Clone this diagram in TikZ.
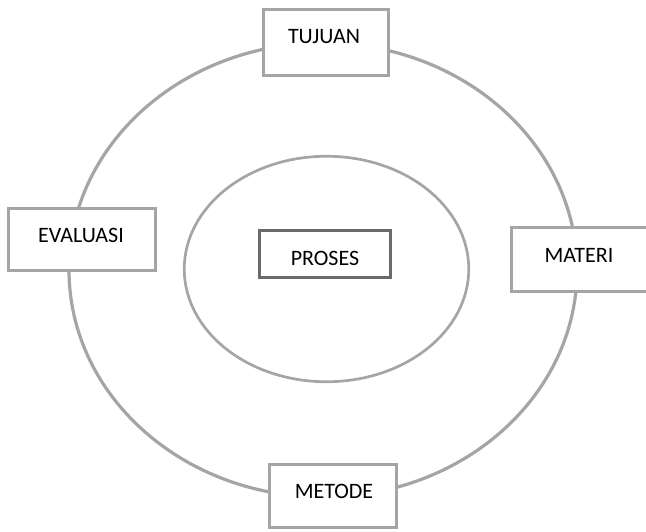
\documentclass[tikz,border=0pt]{standalone}
\usepackage{fontspec}
\setmainfont{Carlito}
\usetikzlibrary{shapes.geometric}
\definecolor{ringgray}{HTML}{A5A5A5}
\definecolor{coregray}{HTML}{6A6A6A}
\tikzset{
  ring/.style={ellipse, draw=ringgray, line width=3.2pt, inner sep=0pt},
  stagebox/.style={rectangle, draw=ringgray, fill=white, line width=3.3pt, inner sep=0pt},
  corebox/.style={rectangle, draw=coregray, fill=white, line width=3.3pt, inner sep=0pt},
  lbl/.style={text=black, font=\fontsize{22}{26}\selectfont, inner sep=0pt, anchor=base},
}
\begin{document}
\begin{tikzpicture}[x=1pt, y=-1pt]
  \useasboundingbox (0,0) rectangle (646,531);
  \clip (0,0) rectangle (646,531);

  % the cycle and the inner process area
  \node[ring, minimum width=508pt, minimum height=454pt] (cycle) at (323,270) {};
  \node[ring, line width=2.7pt, minimum width=284.5pt, minimum height=225.5pt] (area) at (326.5,269) {};

  % stages on the cycle
  \node[stagebox, minimum width=125pt, minimum height=66pt] (tujuan) at (326,42.5) {};
  \node[stagebox, minimum width=147pt, minimum height=62pt] (evaluasi) at (82,239.5) {};
  \node[stagebox, minimum width=148.5pt, minimum height=64pt] (materi) at (585.75,259.5) {};
  \node[stagebox, minimum width=127pt, minimum height=63pt] (metode) at (333,496) {};

  % centre
  \node[corebox, minimum width=131pt, minimum height=47pt] (proses) at (325,254) {};

  % labels
  \node[lbl] (tujuan-text) at (324,43.5) {TUJUAN};
  \node[lbl] (evaluasi-text) at (81,242.5) {EVALUASI};
  \node[lbl] (materi-text) at (579,262.5) {MATERI};
  \node[lbl] (metode-text) at (334,498.5) {METODE};
  \node[lbl] (proses-text) at (325,265.5) {PROSES};
\end{tikzpicture}
\end{document}
